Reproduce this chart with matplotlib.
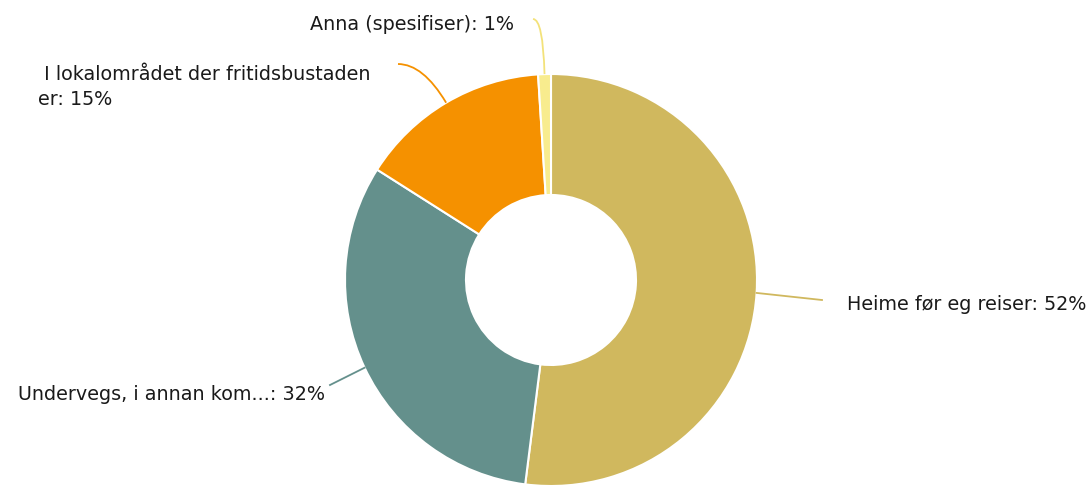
import numpy as np
import matplotlib
matplotlib.use("Agg")
import matplotlib.pyplot as plt
from matplotlib.path import Path
from matplotlib.patches import PathPatch

categories = ["Heime før eg reiser", "Undervegs, i annan kom...",
              "I lokalområdet der fritidsbustaden\ner", "Anna (spesifiser)"]
values = [52, 32, 15, 1]
colors = ["#D0B85E", "#64908C", "#F59100", "#F8EC8E"]

W, H = 1091, 487
fig = plt.figure(figsize=(W / 100, H / 100), dpi=100)
ax = fig.add_axes([0, 0, 1, 1])


def Y(y):
    return H - y


cx, cy, R, r_in = 551, Y(280), 206, 85
wedges, _ = ax.pie(values, colors=colors, startangle=90, counterclock=False,
                   center=(cx, cy), radius=R,
                   wedgeprops=dict(width=R - r_in, edgecolor="white", linewidth=1.5))
ax.set_xlim(0, W)
ax.set_ylim(0, H)
ax.set_aspect("equal")
ax.axis("off")

cum = np.cumsum([0] + values)
total = sum(values)
anchors = []
for i in range(len(values)):
    frac = (cum[i] + values[i] / 2) / total
    th = np.deg2rad(frac * 360)
    anchors.append((cx + R * np.sin(th), cy + R * np.cos(th)))

tkw = dict(fontsize=13.8, color="#1a1a1a", family="DejaVu Sans")

# Heime
ax.plot([anchors[0][0], 822], [anchors[0][1], Y(300)], color=colors[0], lw=1.3)
ax.text(847, Y(305), f"{categories[0]}: {values[0]}%", ha="left", va="center", **tkw)

# Undervegs
ax.plot([anchors[1][0], 330], [anchors[1][1], Y(385)], color=colors[1], lw=1.3)
ax.text(18, Y(395), f"{categories[1]}: {values[1]}%", ha="left", va="center", **tkw)

# I lokalområdet (curved)
x0, y0 = anchors[2]
p = Path([(x0, y0), (423, Y(64)), (398, Y(64))], [Path.MOVETO, Path.CURVE3, Path.CURVE3])
ax.add_patch(PathPatch(p, fill=False, edgecolor=colors[2], lw=1.3))
ax.text(38, Y(87), f" {categories[2]}: {values[2]}%", ha="left", va="center",
        linespacing=1.4, **tkw)

# Anna (curved)
x0, y0 = anchors[3]
p = Path([(x0, y0), (543, Y(19)), (533, Y(19))], [Path.MOVETO, Path.CURVE3, Path.CURVE3])
ax.add_patch(PathPatch(p, fill=False, edgecolor="#F3E27A", lw=1.3))
ax.text(514, Y(25), f"{categories[3]}: {values[3]}%", ha="right", va="center", **tkw)

fig.savefig("out.png", dpi=100)
